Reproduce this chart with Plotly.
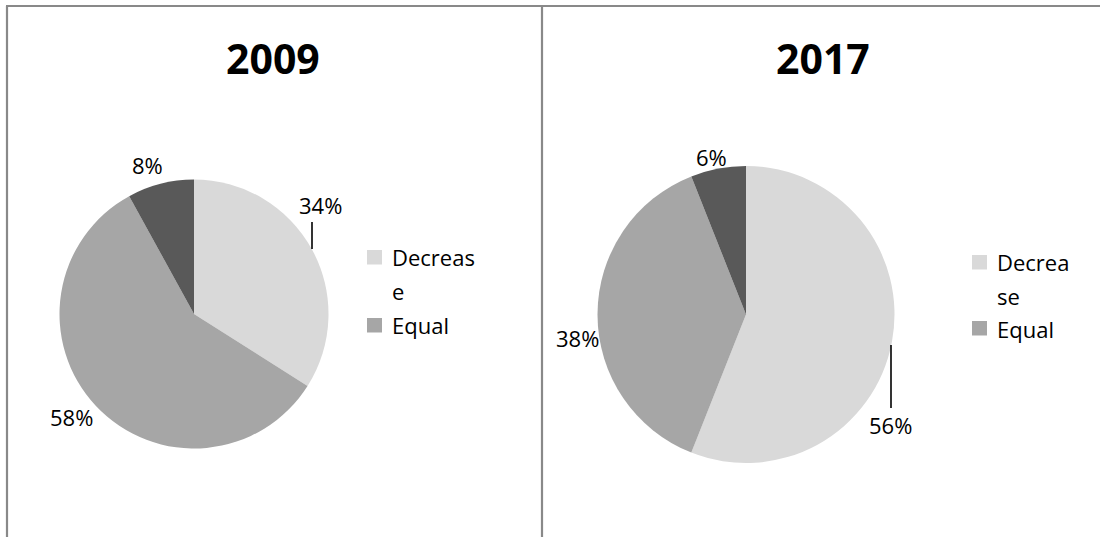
import plotly.graph_objects as go

# Survey answers per year, share of respondents (%)
categories = ["Decrease", "Equal", "Increase"]
years = ["2009", "2017"]
shares_2009 = [34, 58, 8]
shares_2017 = [56, 38, 6]
legend_lines = [["Decreas", "e"], ["Decrea", "se"]]  # wrapped legend labels per panel

slice_colors = ["#D9D9D9", "#A6A6A6", "#595959"]
frame_color = "#898989"
W, H = 1100, 537
FONT = "Open Sans"


def px(x):
    return x / W


def py(y):
    return 1 - y / H


fig = go.Figure()

# pie placement in pixels: centre x, centre y, radius
pie_geom = [(194, 314, 134.5), (746, 314.5, 148.5)]
for shares, (cx, cy, r) in zip([shares_2009, shares_2017], pie_geom):
    fig.add_trace(go.Pie(
        labels=categories,
        values=shares,
        sort=False,
        direction="clockwise",
        rotation=0,
        marker=dict(colors=slice_colors, line=dict(width=0)),
        textinfo="none",
        hoverinfo="skip",
        showlegend=False,
        domain=dict(x=[px(cx - r), px(cx + r)], y=[py(cy + r), py(cy - r)]),
    ))

annotations = []
shapes = []

# panel titles
for title, cx in zip(years, [272.5, 823]):
    annotations.append(dict(text=f"<b>{title}</b>", x=px(cx), y=py(57.5), xref="paper", yref="paper",
                            showarrow=False, xanchor="center", yanchor="middle",
                            font=dict(family=FONT, size=41, color="#000000")))

# percentage labels (centre positions in px)
label_pos = [
    [(320, 205), (71, 417), (147, 165)],
    [(890, 425), (577, 338), (711, 157)],
]
for shares, positions in zip([shares_2009, shares_2017], label_pos):
    for v, (lx, ly) in zip(shares, positions):
        annotations.append(dict(text=f"{v}%", x=px(lx), y=py(ly), xref="paper", yref="paper",
                                showarrow=False, xanchor="center", yanchor="middle",
                                font=dict(family=FONT, size=22, color="#000000")))

# leader lines
for (x0, y0, y1) in [(312, 222, 249), (891, 345, 408)]:
    shapes.append(dict(type="line", xref="paper", yref="paper", x0=px(x0), x1=px(x0), y0=py(y0), y1=py(y1),
                       line=dict(color="#000000", width=1.6)))

# legends: square swatch + wrapped text
legend_geom = [
    dict(sq_x=367, sq_y=[250, 318], tx=390, ty=[257, 291, 325]),
    dict(sq_x=972, sq_y=[255, 321], tx=995, ty=[262, 296, 329]),
]
for lines, g in zip(legend_lines, legend_geom):
    for color, sy in zip(slice_colors[:2], g["sq_y"]):
        shapes.append(dict(type="rect", xref="paper", yref="paper",
                           x0=px(g["sq_x"]), x1=px(g["sq_x"] + 15), y0=py(sy + 14.5), y1=py(sy),
                           fillcolor=color, line=dict(width=0)))
    texts = lines + [categories[1]]
    for t, ty in zip(texts, g["ty"]):
        annotations.append(dict(text=t, x=px(g["tx"]), y=py(ty), xref="paper", yref="paper",
                                showarrow=False, xanchor="left", yanchor="middle",
                                font=dict(family=FONT, size=22, color="#000000")))

# chart frames
for (x0, y0, x1, y1) in [(6, 6, 1100, 6), (7, 6, 7, 537), (542, 6, 542, 537)]:
    shapes.append(dict(type="line", xref="paper", yref="paper", x0=px(x0), y0=py(y0), x1=px(x1), y1=py(y1),
                       line=dict(color=frame_color, width=2.2)))

fig.update_layout(
    width=W, height=H,
    margin=dict(l=0, r=0, t=0, b=0),
    paper_bgcolor="#FFFFFF",
    plot_bgcolor="#FFFFFF",
    annotations=annotations,
    shapes=shapes,
)

fig.write_html("out.html", config={"displayModeBar": False})
